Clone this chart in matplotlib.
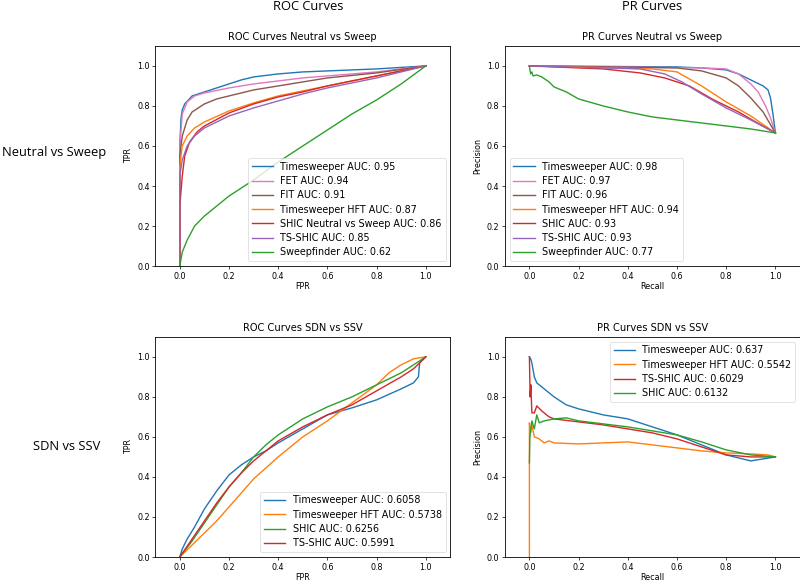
import numpy as np
import matplotlib
matplotlib.use('Agg')
import matplotlib.pyplot as plt

# ---- Neutral vs Sweep, ROC (FPR, TPR) ----
roc1_ts_x = [0, 0, 0.005, 0.01, 0.02, 0.05, 0.1, 0.15, 0.2, 0.25, 0.3, 0.4, 0.5, 0.6, 0.8, 1.0]
roc1_ts_y = [0, 0.6, 0.74, 0.78, 0.81, 0.85, 0.87, 0.89, 0.91, 0.93, 0.945, 0.96, 0.97, 0.975, 0.985, 1.0]
roc1_fet_x = [0, 0, 0.01, 0.03, 0.06, 0.1, 0.2, 0.3, 0.4, 0.5, 0.6, 0.8, 1.0]
roc1_fet_y = [0, 0.6, 0.76, 0.82, 0.85, 0.865, 0.89, 0.91, 0.925, 0.94, 0.95, 0.97, 1.0]
roc1_fit_x = [0, 0, 0.01, 0.03, 0.05, 0.1, 0.15, 0.2, 0.3, 0.4, 0.5, 0.6, 0.8, 1.0]
roc1_fit_y = [0, 0.55, 0.65, 0.73, 0.77, 0.81, 0.835, 0.85, 0.88, 0.9, 0.92, 0.94, 0.965, 1.0]
roc1_hft_x = [0, 0, 0.01, 0.03, 0.06, 0.1, 0.2, 0.3, 0.4, 0.5, 0.6, 0.8, 1.0]
roc1_hft_y = [0, 0.5, 0.6, 0.65, 0.69, 0.72, 0.775, 0.815, 0.85, 0.875, 0.9, 0.95, 1.0]
roc1_shic_x = [0, 0, 0.01, 0.02, 0.04, 0.07, 0.1, 0.2, 0.3, 0.4, 0.5, 0.6, 0.8, 1.0]
roc1_shic_y = [0, 0.3, 0.45, 0.55, 0.62, 0.67, 0.7, 0.765, 0.81, 0.845, 0.87, 0.9, 0.95, 1.0]
roc1_tsshic_x = [0, 0, 0.01, 0.03, 0.06, 0.1, 0.2, 0.3, 0.4, 0.5, 0.6, 0.8, 1.0]
roc1_tsshic_y = [0, 0.45, 0.53, 0.6, 0.65, 0.69, 0.75, 0.79, 0.825, 0.86, 0.89, 0.94, 1.0]
roc1_sf_x = [0, 0.01, 0.03, 0.06, 0.1, 0.2, 0.3, 0.4, 0.5, 0.6, 0.7, 0.8, 0.9, 1.0]
roc1_sf_y = [0, 0.07, 0.13, 0.2, 0.25, 0.35, 0.43, 0.52, 0.6, 0.68, 0.76, 0.83, 0.91, 1.0]

# ---- Neutral vs Sweep, PR (recall, precision) ----
pr1_ts_x = [0, 0.6, 0.7, 0.8, 0.85, 0.9, 0.95, 0.97, 0.98, 0.99, 1.0]
pr1_ts_y = [1.0, 0.995, 0.99, 0.98, 0.96, 0.93, 0.9, 0.88, 0.84, 0.76, 0.665]
pr1_fet_x = [0, 0.7, 0.8, 0.85, 0.9, 0.93, 0.96, 0.98, 1.0]
pr1_fet_y = [1.0, 0.99, 0.985, 0.96, 0.91, 0.87, 0.8, 0.74, 0.665]
pr1_fit_x = [0, 0.6, 0.7, 0.8, 0.85, 0.9, 0.95, 1.0]
pr1_fit_y = [1.0, 0.99, 0.975, 0.94, 0.9, 0.84, 0.77, 0.665]
pr1_hft_x = [0, 0.5, 0.6, 0.7, 0.8, 0.9, 1.0]
pr1_hft_y = [1.0, 0.985, 0.97, 0.9, 0.82, 0.75, 0.665]
pr1_shic_x = [0, 0.3, 0.45, 0.55, 0.65, 0.75, 0.85, 0.92, 1.0]
pr1_shic_y = [1.0, 0.985, 0.965, 0.94, 0.9, 0.83, 0.77, 0.72, 0.665]
pr1_tsshic_x = [0, 0.45, 0.55, 0.62, 0.7, 0.8, 0.9, 1.0]
pr1_tsshic_y = [1.0, 0.985, 0.96, 0.92, 0.86, 0.79, 0.73, 0.665]
pr1_sf_x = [0, 0.005, 0.01, 0.015, 0.03, 0.05, 0.08, 0.1, 0.15, 0.2, 0.3, 0.4, 0.5, 0.6, 0.7, 0.8, 0.9, 1.0]
pr1_sf_y = [1.0, 0.96, 0.97, 0.95, 0.955, 0.945, 0.92, 0.895, 0.87, 0.835, 0.8, 0.77, 0.745, 0.73, 0.715, 0.7, 0.685, 0.665]

# ---- SDN vs SSV, ROC ----
roc2_ts_x = [0, 0.01, 0.03, 0.06, 0.1, 0.15, 0.2, 0.25, 0.3, 0.35, 0.4, 0.5, 0.6, 0.7, 0.8, 0.9, 0.95, 0.97, 0.975, 1.0]
roc2_ts_y = [0, 0.04, 0.09, 0.15, 0.24, 0.33, 0.41, 0.46, 0.5, 0.53, 0.57, 0.64, 0.71, 0.745, 0.785, 0.84, 0.87, 0.9, 0.97, 1.0]
roc2_hft_x = [0, 0.05, 0.1, 0.15, 0.2, 0.25, 0.3, 0.4, 0.5, 0.6, 0.7, 0.8, 0.85, 0.9, 0.95, 1.0]
roc2_hft_y = [0, 0.06, 0.12, 0.18, 0.25, 0.32, 0.39, 0.5, 0.6, 0.68, 0.77, 0.86, 0.92, 0.96, 0.99, 1.0]
roc2_shic_x = [0, 0.05, 0.1, 0.15, 0.2, 0.25, 0.3, 0.35, 0.4, 0.45, 0.5, 0.6, 0.7, 0.8, 0.9, 1.0]
roc2_shic_y = [0, 0.08, 0.17, 0.26, 0.35, 0.42, 0.5, 0.56, 0.61, 0.65, 0.69, 0.75, 0.8, 0.86, 0.92, 1.0]
roc2_tsshic_x = [0, 0.05, 0.1, 0.15, 0.2, 0.25, 0.3, 0.4, 0.5, 0.6, 0.7, 0.8, 0.9, 0.95, 1.0]
roc2_tsshic_y = [0, 0.09, 0.18, 0.27, 0.35, 0.42, 0.48, 0.58, 0.65, 0.71, 0.76, 0.83, 0.9, 0.94, 1.0]

# ---- SDN vs SSV, PR ----
pr2_ts_x = [0, 0.005, 0.01, 0.02, 0.03, 0.05, 0.08, 0.1, 0.15, 0.2, 0.3, 0.4, 0.5, 0.6, 0.7, 0.8, 0.9, 1.0]
pr2_ts_y = [1.0, 0.99, 0.97, 0.9, 0.87, 0.85, 0.82, 0.8, 0.76, 0.74, 0.71, 0.69, 0.65, 0.61, 0.56, 0.51, 0.48, 0.5]
pr2_hft_x = [0, 0, 0.005, 0.01, 0.02, 0.04, 0.06, 0.08, 0.1, 0.2, 0.3, 0.4, 0.5, 0.6, 0.7, 0.8, 0.9, 0.97, 1.0]
pr2_hft_y = [0, 0.67, 0.62, 0.66, 0.6, 0.59, 0.57, 0.58, 0.57, 0.565, 0.57, 0.575, 0.56, 0.545, 0.53, 0.52, 0.515, 0.51, 0.5]
pr2_tsshic_x = [0, 0.003, 0.006, 0.01, 0.02, 0.03, 0.05, 0.08, 0.1, 0.2, 0.3, 0.4, 0.5, 0.6, 0.7, 0.8, 0.9, 1.0]
pr2_tsshic_y = [1.0, 0.8, 0.86, 0.72, 0.72, 0.755, 0.73, 0.7, 0.69, 0.675, 0.66, 0.64, 0.62, 0.59, 0.55, 0.51, 0.5, 0.5]
pr2_shic_x = [0, 0.002, 0.01, 0.02, 0.03, 0.04, 0.06, 0.1, 0.15, 0.2, 0.3, 0.4, 0.5, 0.6, 0.7, 0.8, 0.9, 1.0]
pr2_shic_y = [0.47, 0.6, 0.68, 0.64, 0.71, 0.67, 0.68, 0.69, 0.695, 0.68, 0.665, 0.65, 0.63, 0.61, 0.575, 0.535, 0.51, 0.5]

# legend labels
roc1_labels = ['Timesweeper AUC: 0.95', 'FET AUC: 0.94', 'FIT AUC: 0.91', 'Timesweeper HFT AUC: 0.87',
               'SHIC Neutral vs Sweep AUC: 0.86', 'TS-SHIC AUC: 0.85', 'Sweepfinder AUC: 0.62']
pr1_labels = ['Timesweeper AUC: 0.98', 'FET AUC: 0.97', 'FIT AUC: 0.96', 'Timesweeper HFT AUC: 0.94',
              'SHIC AUC: 0.93', 'TS-SHIC AUC: 0.93', 'Sweepfinder AUC: 0.77']
roc2_labels = ['Timesweeper AUC: 0.6058', 'Timesweeper HFT AUC: 0.5738', 'SHIC AUC: 0.6256', 'TS-SHIC AUC: 0.5991']
pr2_labels = ['Timesweeper AUC: 0.637', 'Timesweeper HFT AUC: 0.5542', 'TS-SHIC AUC: 0.6029', 'SHIC AUC: 0.6132']

colors7 = ['tab:blue', 'tab:pink', 'tab:brown', 'tab:orange', 'tab:red', 'tab:purple', 'tab:green']

panels = [
    ([0.194, 0.542, 0.369, 0.379], 'ROC Curves Neutral vs Sweep', 'FPR', 'TPR', 'lower right',
     [(roc1_ts_x, roc1_ts_y), (roc1_fet_x, roc1_fet_y), (roc1_fit_x, roc1_fit_y), (roc1_hft_x, roc1_hft_y),
      (roc1_shic_x, roc1_shic_y), (roc1_tsshic_x, roc1_tsshic_y), (roc1_sf_x, roc1_sf_y)],
     roc1_labels, colors7),
    ([0.631, 0.542, 0.369, 0.379], 'PR Curves Neutral vs Sweep', 'Recall', 'Precision', 'lower left',
     [(pr1_ts_x, pr1_ts_y), (pr1_fet_x, pr1_fet_y), (pr1_fit_x, pr1_fit_y), (pr1_hft_x, pr1_hft_y),
      (pr1_shic_x, pr1_shic_y), (pr1_tsshic_x, pr1_tsshic_y), (pr1_sf_x, pr1_sf_y)],
     pr1_labels, colors7),
    ([0.194, 0.0413, 0.369, 0.379], 'ROC Curves SDN vs SSV', 'FPR', 'TPR', 'lower right',
     [(roc2_ts_x, roc2_ts_y), (roc2_hft_x, roc2_hft_y), (roc2_shic_x, roc2_shic_y), (roc2_tsshic_x, roc2_tsshic_y)],
     roc2_labels, ['tab:blue', 'tab:orange', 'tab:green', 'tab:red']),
    ([0.631, 0.0413, 0.369, 0.379], 'PR Curves SDN vs SSV', 'Recall', 'Precision', 'upper right',
     [(pr2_ts_x, pr2_ts_y), (pr2_hft_x, pr2_hft_y), (pr2_tsshic_x, pr2_tsshic_y), (pr2_shic_x, pr2_shic_y)],
     pr2_labels, ['tab:blue', 'tab:orange', 'tab:red', 'tab:green']),
]

fig = plt.figure(figsize=(8, 5.81), dpi=100)

for rect, title, xlab, ylab, loc, curves, labels, cols in panels:
    ax = fig.add_axes(rect)
    for (x, y), lab, c in zip(curves, labels, cols):
        ax.plot(x, y, color=c, lw=1.0, label=lab)
    ax.set_xlim(-0.1, 1.1)
    ax.set_ylim(0, 1.1)
    ax.set_xticks(np.arange(0, 1.01, 0.2))
    ax.set_yticks(np.arange(0, 1.01, 0.2))
    ax.tick_params(labelsize=5.8, length=2, width=0.5, pad=2)
    for s in ax.spines.values():
        s.set_linewidth(0.6)
    ax.set_title(title, fontsize=7.1, pad=4)
    ax.set_xlabel(xlab, fontsize=5.8, labelpad=1)
    ax.set_ylabel(ylab, fontsize=5.8, labelpad=3)
    leg = ax.legend(loc=loc, fontsize=6.9, handlelength=2.2, borderpad=0.4, labelspacing=0.45)
    leg.get_frame().set_linewidth(0.5)

# row / column headers
hfont = dict(family=['Open Sans', 'DejaVu Sans'], fontsize=9.3, va='center')
fig.text(0.385, 0.988, 'ROC Curves', ha='center', **hfont)
fig.text(0.815, 0.988, 'PR Curves', ha='center', **hfont)
fig.text(0.002, 0.738, 'Neutral vs Sweep', ha='left', **hfont)
fig.text(0.083, 0.232, 'SDN vs SSV', ha='center', **hfont)

fig.savefig('out.png', dpi=100)
